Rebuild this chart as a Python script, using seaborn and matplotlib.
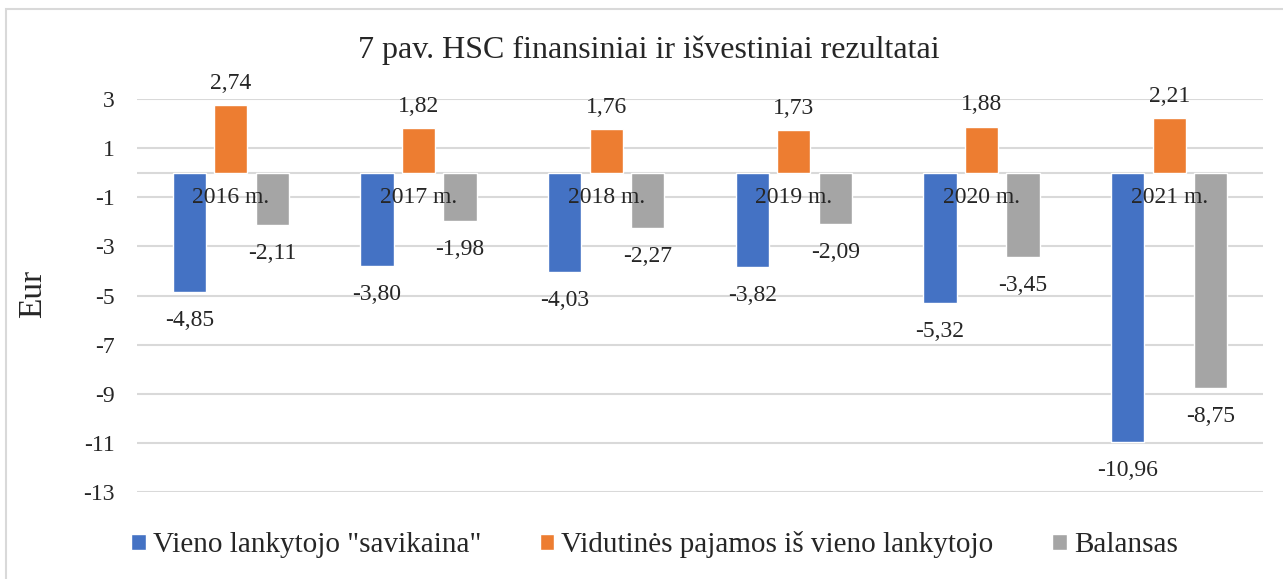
import pandas as pd
import seaborn as sns
from matplotlib import pyplot as plt
from matplotlib.patches import Rectangle

years = ["2016 m.", "2017 m.", "2018 m.", "2019 m.", "2020 m.", "2021 m."]
series_names = ['Vieno lankytojo "savikaina"', "Vidutinės pajamos iš vieno lankytojo", "Balansas"]
cost = [-4.85, -3.80, -4.03, -3.82, -5.32, -10.96]
income = [2.74, 1.82, 1.76, 1.73, 1.88, 2.21]
balance = [-2.11, -1.98, -2.27, -2.09, -3.45, -8.75]
y_ticks = [3, 1, -1, -3, -5, -7, -9, -11, -13]
colors = ["#4472C4", "#ED7D31", "#A5A5A5"]

# Long format for seaborn
df = pd.DataFrame({
    "year": years * 3,
    "series": [series_names[0]] * 6 + [series_names[1]] * 6 + [series_names[2]] * 6,
    "value": cost + income + balance,
})

sns.set_theme(style="white")
plt.rcParams["font.family"] = ["Liberation Serif", "DejaVu Serif"]

fig = plt.figure(figsize=(12.83, 5.79), dpi=100)
ax = fig.add_axes([137 / 1283, 1 - 492 / 579, 1126 / 1283, 393 / 579])

sns.barplot(data=df, x="year", y="value", hue="series", hue_order=series_names,
            palette=colors, width=0.664, gap=0.2, saturation=1, ax=ax)

ax.set_ylim(-13, 3)
ax.set_xlim(-0.5, 5.5)
ax.set_yticks(y_ticks)
ax.set_yticklabels([str(t) for t in y_ticks], fontsize=17)
ax.tick_params(axis="y", length=0, pad=16)
ax.set_xticks([])
ax.set_xlabel("")
ax.set_ylabel("")
sns.despine(ax=ax, left=True, bottom=True)
ax.yaxis.grid(True, color="#d9d9d9", lw=1.5)
ax.axhline(0, color="#d9d9d9", lw=1.5, zorder=0.5)
ax.set_axisbelow(True)

# Etiquetas de datos con coma decimal
for cont, vals in zip(ax.containers, [cost, income, balance]):
    labs = [f"{v:.2f}".replace(".", ",") for v in vals]
    pad = 8 if vals is income else 13
    ax.bar_label(cont, labels=labs, padding=pad, fontsize=17)

# Category labels sit on the zero line
for i, y in enumerate(years):
    ax.annotate(y, xy=(i, 0), xytext=(0, -10.5), textcoords="offset points",
                ha="center", va="top", fontsize=17, zorder=10)

handles, labels = ax.get_legend_handles_labels()
ax.legend().remove()
fig.legend(handles, labels, loc="center", bbox_to_anchor=(0.51, 1 - 545 / 579), ncol=3,
           frameon=False, fontsize=21, handlelength=0.5, handleheight=0.5,
           handletextpad=0.25, columnspacing=2.0)

fig.text(649 / 1283, 1 - 50 / 579, "7 pav. HSC finansiniai ir išvestiniai rezultatai",
         ha="center", va="center", fontsize=23)
fig.text(33 / 1283, 1 - 294 / 579, "Eur", rotation=90, ha="center", va="center", fontsize=24)

# Marco exterior gris
fig.add_artist(Rectangle((6 / 1283, -0.1), 1.2, 1 - 9 / 579 + 0.1, transform=fig.transFigure,
                         fill=False, edgecolor="#d9d9d9", lw=1.5))

fig.savefig("out.png", dpi=100)
